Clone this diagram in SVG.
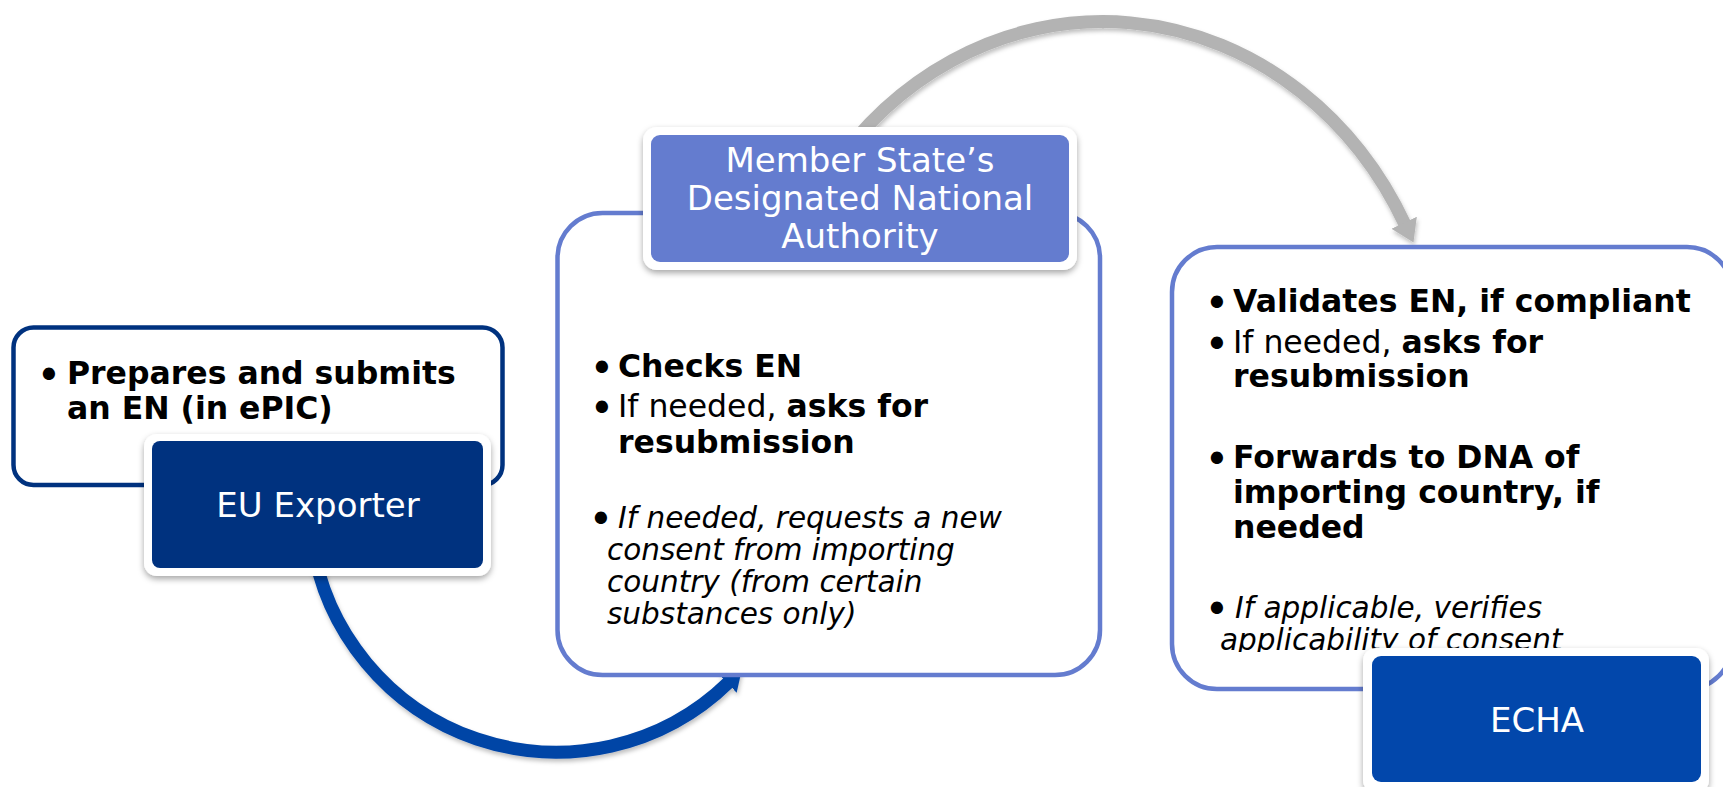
<svg xmlns="http://www.w3.org/2000/svg" width="1723" height="787" viewBox="0 0 1723 787">
<style>
text{font-family:"DejaVu Sans",Verdana,"Liberation Sans",sans-serif;fill:#000}
.b{font-weight:bold;font-size:31.5px}
.r{font-size:31.5px}
.it{font-style:italic;font-size:29.5px}
.bl{font-size:42px;text-anchor:middle}
.lbl{font-size:34px;fill:#fff;text-anchor:middle}
.card{fill:#fff;stroke:#647CCF;stroke-width:4.5}
</style>
<defs>
<filter id="sh" x="-10%" y="-10%" width="120%" height="130%">
<feDropShadow dx="0" dy="3" stdDeviation="3" flood-color="#000" flood-opacity="0.35"/>
</filter>
<filter id="ash" x="-10%" y="-10%" width="120%" height="130%">
<feDropShadow dx="1" dy="3" stdDeviation="2" flood-color="#000" flood-opacity="0.25"/>
</filter>
<marker id="hg" markerUnits="userSpaceOnUse" markerWidth="26" markerHeight="30" refX="2" refY="14" orient="auto">
<path d="M0,0 L22,14 L0,28 Z" fill="#B3B3B3"/>
</marker>
<marker id="hb" markerUnits="userSpaceOnUse" markerWidth="26" markerHeight="30" refX="2" refY="13" orient="auto">
<path d="M0,0 L20,13 L0,26 Z" fill="#0045A6"/>
</marker>
<clipPath id="rclip"><rect x="1160" y="240" width="563" height="412"/></clipPath>
</defs>

<g id="connectors">
<path id="arrow-dna-echa" d="M 830 173 A 340 375 0 0 1 1405 224.5" fill="none" stroke="#B3B3B3" stroke-width="13" marker-end="url(#hg)" filter="url(#ash)"/>
<path id="arrow-exporter-dna" d="M 312 540 A 247 247 0 0 0 729 682" fill="none" stroke="#0045A6" stroke-width="13" marker-end="url(#hb)" filter="url(#ash)"/>
</g>

<g id="node-exporter">
<rect x="13.5" y="327.5" width="489" height="157.5" rx="20" fill="#fff" stroke="#00327F" stroke-width="4.5"/>
<text class="bl" x="49" y="390">•</text>
<text class="b" x="67" y="384">Prepares and submits</text>
<text class="b" x="67" y="419">an EN (in ePIC)</text>
<rect x="144" y="434" width="347" height="142" rx="13" fill="#fff" filter="url(#sh)"/>
<rect x="152" y="441" width="331" height="127" rx="8" fill="#00327F"/>
<text class="lbl" x="318" y="517">EU Exporter</text>
</g>

<g id="node-dna">
<rect class="card" x="557.5" y="213" width="542.5" height="462" rx="45"/>
<text class="bl" x="602" y="383">•</text>
<text class="b" x="618" y="377">Checks EN</text>
<text class="bl" x="602" y="423">•</text>
<text class="r" x="618" y="417">If needed, <tspan font-weight="bold">asks for</tspan></text>
<text class="b" x="618" y="453">resubmission</text>
<text class="bl" x="601" y="534">•</text>
<text class="it" x="618" y="528">If needed, requests a new</text>
<text class="it" x="607" y="560">consent from importing</text>
<text class="it" x="607" y="592">country (from certain</text>
<text class="it" x="607" y="624">substances only)</text>
<rect x="643" y="127" width="434" height="143" rx="14" fill="#fff" filter="url(#sh)"/>
<rect x="651" y="135" width="418" height="127" rx="9" fill="#647CCF"/>
<text class="lbl" x="860" y="172">Member State’s</text>
<text class="lbl" x="860" y="210">Designated National</text>
<text class="lbl" x="860" y="248">Authority</text>
</g>

<g id="node-echa">
<rect class="card" x="1172" y="247" width="560" height="442" rx="45"/>
<text class="bl" x="1217" y="318">•</text>
<text class="b" x="1233" y="312">Validates EN, if compliant</text>
<text class="bl" x="1217" y="359">•</text>
<text class="r" x="1233" y="353">If needed, <tspan font-weight="bold">asks for</tspan></text>
<text class="b" x="1233" y="387">resubmission</text>
<text class="bl" x="1217" y="474">•</text>
<text class="b" x="1233" y="468">Forwards to DNA of</text>
<text class="b" x="1233" y="503">importing country, if</text>
<text class="b" x="1233" y="538">needed</text>
<text class="bl" x="1217" y="624">•</text>
<text class="it" x="1235" y="618">If applicable, verifies</text>
<text class="it" x="1220" y="650" clip-path="url(#rclip)">applicability of consent</text>
<rect x="1363" y="648" width="346" height="145" rx="13" fill="#fff" filter="url(#sh)"/>
<rect x="1372" y="656" width="329" height="126" rx="9" fill="#0247AB"/>
<text class="lbl" x="1537" y="732">ECHA</text>
</g>
</svg>
